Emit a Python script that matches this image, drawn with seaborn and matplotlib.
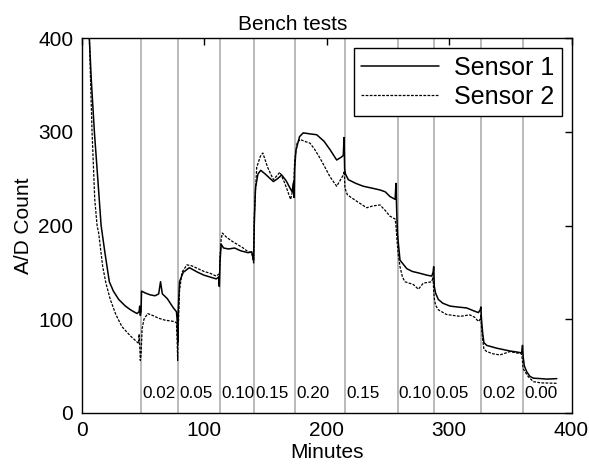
import matplotlib
matplotlib.use("Agg")
import matplotlib.pyplot as plt
import seaborn as sns
import pandas as pd

# ---- data ----
s1_t = [5, 6.4, 8, 10.5, 13, 16, 19, 22.7, 26, 30.4, 35.8, 40, 45.3, 47, 47.5, 48, 48.6, 49, 52, 56, 60, 63, 64.5, 66,
        70, 75, 77.5, 78, 78.6, 79, 80, 83, 88, 95, 100, 105, 110, 112, 112.5, 113, 114, 116, 120, 125, 130, 136, 139,
        140.5, 141, 142, 144, 146.3, 150, 156.6, 160, 163.4, 167, 170.2, 172, 173, 173.5, 174, 175, 178, 181, 186, 192,
        198, 202.9, 208.3, 212, 213.7, 214.3, 214.8, 215.5, 217.8, 224, 230, 237, 243.7, 248, 251.8, 256, 256.7, 257.3,
        258, 260, 265.5, 270, 276.3, 282, 285.9, 287, 287.5, 288, 289, 291.3, 295, 300.8, 307, 314.4, 320, 324, 325.5,
        326, 326.5, 327.5, 328.5, 330.8, 339, 349.8, 355, 359.3, 360, 360.5, 361.5, 363.4, 366, 368.8, 375, 379.8, 388]
s1_v = [440, 400, 355, 300, 255, 200, 172, 140, 130, 121, 114, 110, 106, 108, 114, 104, 108, 130, 128, 126, 125, 127, 140, 127,
        122, 112, 108, 100, 75, 110, 140, 150, 155, 150, 147, 145, 143, 145, 135, 160, 180, 176, 175, 176, 173, 171, 172,
        162, 200, 240, 255, 259, 255, 247, 250, 254, 248, 240, 236, 246, 230, 260, 280, 295, 299, 298, 297,
        290, 281, 270, 273, 275, 294, 260, 255, 249, 245, 242, 240, 238, 236, 231, 228, 245, 215,
        190, 163, 154, 151, 149, 147, 146, 150, 156, 135, 128, 121, 117, 114, 113, 112, 109, 107, 110,
        113, 100, 85, 75, 72, 69, 66, 65, 64, 72, 60, 50, 44, 39, 37, 36.5, 36, 36.5]

s2_t = [5, 6.4, 8.6, 10.8, 12.7, 14, 17.3, 20, 23.5, 28, 33, 40, 46.7, 47, 47.5, 48, 48.6, 49.5, 51, 54, 58, 63, 68, 73, 76,
        77.5, 78, 78.5, 79, 80, 82, 86, 90, 95, 100, 105, 110, 112, 112.5, 113, 114, 115, 118, 122, 127, 132, 136, 139,
        140.5, 141, 143, 146, 148, 152, 156.6, 162, 166, 170.7, 172.5, 173.5, 174, 176, 178.4, 182, 186.5, 190, 194.7,
        198, 202.9, 208.3, 211, 213.7, 214.5, 215, 217, 219, 224.6, 232.8, 238, 243.7, 248, 251.8, 256, 256.7, 257.5,
        258.5, 260, 262, 264, 270.9, 275, 279, 285.9, 287, 287.5, 288, 289, 291.3, 298, 309, 317, 321, 324, 325.5, 326,
        326.5, 327.5, 328.5, 330.8, 336, 341.6, 349.8, 355, 359.3, 360, 360.5, 361.5, 364.7, 368.8, 375, 388]
s2_v = [440, 400, 300, 228, 200, 192, 156, 138, 121, 105, 92, 82, 74, 84, 72, 56, 62, 90, 100, 106, 104, 101, 99, 98, 97.5,
        96, 80, 56, 90, 130, 150, 158, 157, 154, 151, 149, 146, 148, 140, 165, 185, 192, 188, 184, 180, 176, 172, 171,
        160, 210, 262, 274, 277.5, 262, 249, 257, 245, 228, 238, 250, 270, 288, 292, 290, 288, 282, 272,
        264, 252, 242, 248, 254, 258, 240, 233, 231, 226, 219, 221, 222, 216, 210, 207, 200, 185,
        170, 156, 145, 140, 137, 132, 138.5, 140, 145, 130, 122, 115, 110, 105, 103, 104.6, 102, 97.5, 100, 104,
        92, 78, 68, 65.4, 63, 61.8, 65.4, 64, 63, 55, 47, 45, 38.6, 33.3, 32, 31.5]

boundaries = [48.5, 78.5, 113, 141, 174, 215, 258, 288, 326.5, 360.5]
concentrations = ["0.02", "0.05", "0.10", "0.15", "0.20", "0.15", "0.10", "0.05", "0.02", "0.00"]

# ---- style ----
sns.set_style("white")
plt.rcParams["font.family"] = ["Liberation Sans", "DejaVu Sans"]
plt.rcParams["text.color"] = "black"
plt.rcParams["axes.labelcolor"] = "black"

fig = plt.figure(figsize=(5.89, 4.74), dpi=100)
ax = fig.add_axes([0.1384, 0.1291, 0.9703 - 0.1384, 0.9192 - 0.1291])

for b in boundaries:
    ax.axvline(b, color="#b4b4b4", lw=1.3, zorder=1)

df1 = pd.DataFrame({"Minutes": s1_t, "Count": s1_v})
df2 = pd.DataFrame({"Minutes": s2_t, "Count": s2_v})
sns.lineplot(data=df1, x="Minutes", y="Count", color="black", lw=1.1, sort=False,
             estimator=None, label="Sensor 1", ax=ax, zorder=3)
sns.lineplot(data=df2, x="Minutes", y="Count", color="black", lw=0.9, sort=False,
             estimator=None, label="Sensor 2", ax=ax, linestyle=(0, (2.2, 1.1)), zorder=3)

for b, c in zip(boundaries, concentrations):
    ax.text(b + 1.0, 21, c, fontsize=12.3, ha="left", va="center", color="black", zorder=4)

ax.set_xlim(0, 400)
ax.set_ylim(0, 400)
ax.set_xticks([0, 100, 200, 300, 400])
ax.set_yticks([0, 100, 200, 300, 400])
ax.tick_params(direction="in", length=5, width=1, top=True, right=True, labelsize=15, colors="black", pad=6)
for sp in ax.spines.values():
    sp.set_color("black")
    sp.set_linewidth(1)
ax.set_xlabel("Minutes", fontsize=15, labelpad=2, color="black")
ax.set_ylabel("A/D Count", fontsize=15, labelpad=4, color="black")
ax.set_title("Bench tests", fontsize=15, pad=6, color="black")
ax.title.set_x(0.43)

leg = ax.legend(loc="upper right", fontsize=18, handlelength=3.1, frameon=True, fancybox=False,
                edgecolor="black", framealpha=1, borderaxespad=0.4, borderpad=0.3, labelspacing=0.2,
                handletextpad=0.6)
leg.get_frame().set_linewidth(1)
for t in leg.get_texts():
    t.set_color("black")

fig.savefig("out.png", dpi=100)
